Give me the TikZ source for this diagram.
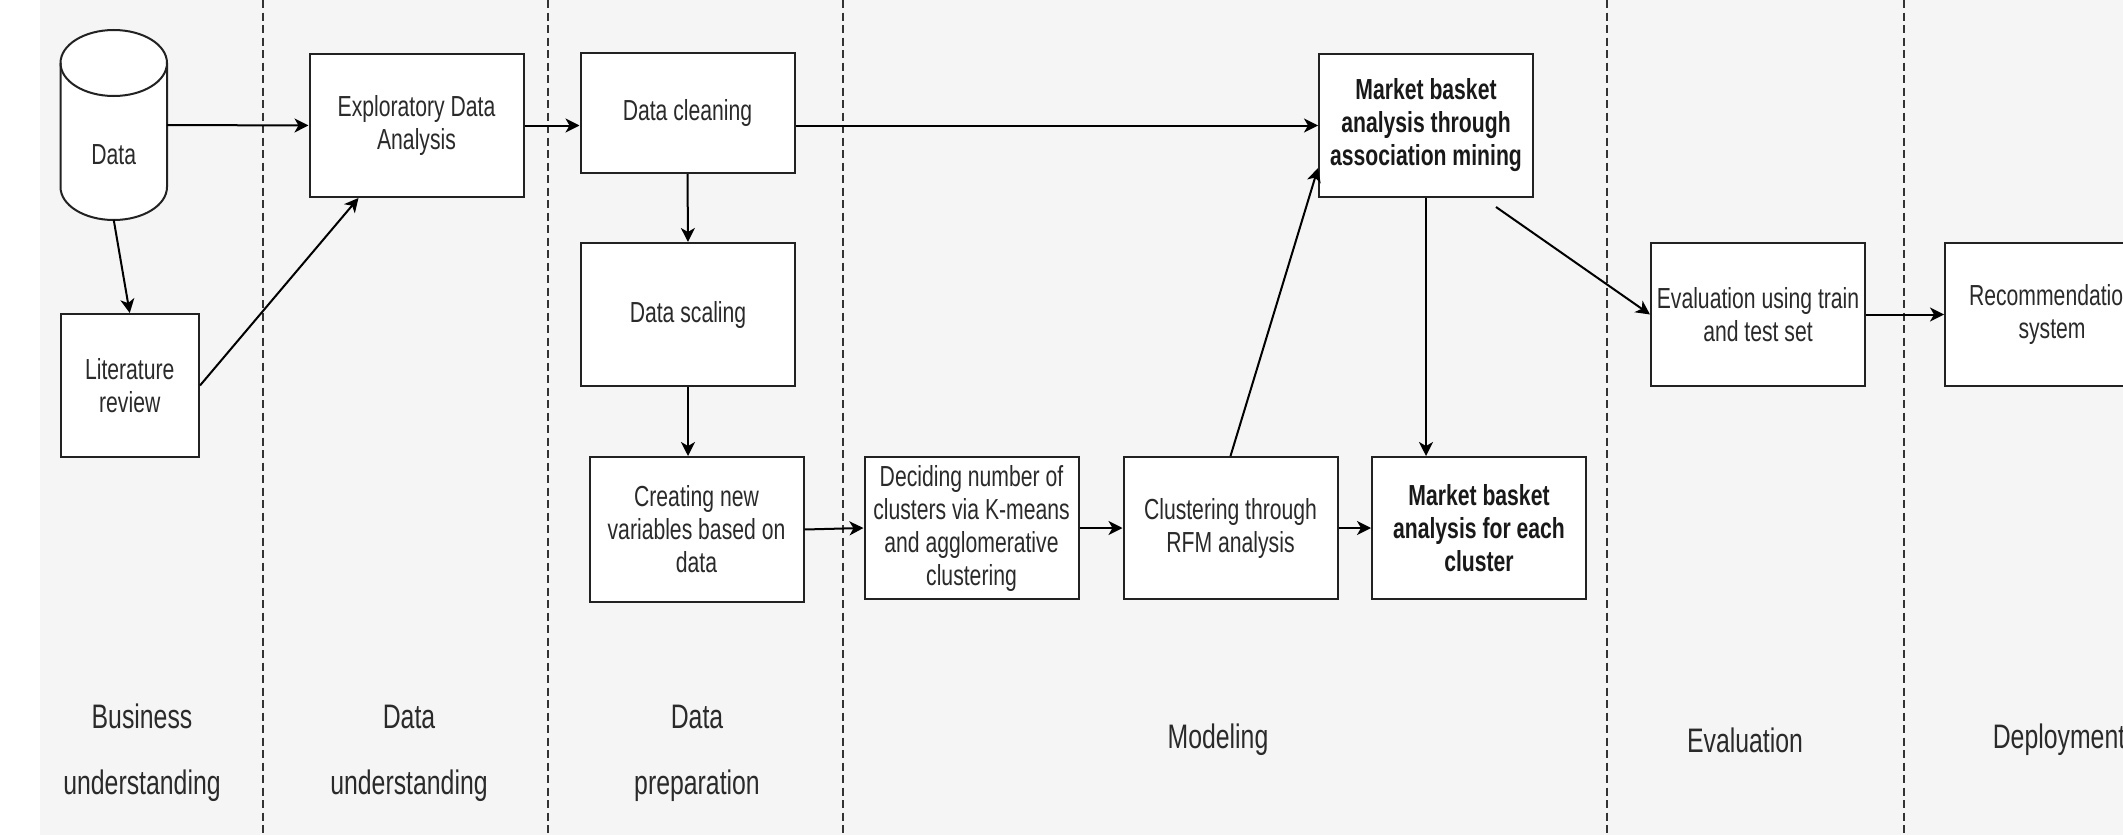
\documentclass[tikz,border=0pt]{standalone}
\usepackage{fontspec}
\setmainfont{Liberation Sans}[FakeStretch=0.73]
\usetikzlibrary{arrows.meta,calc}
\definecolor{bgc}{HTML}{F5F5F5}
\definecolor{txt}{HTML}{2A2A2A}
\definecolor{edge}{HTML}{222222}
\begin{document}
\begin{tikzpicture}[x=1pt,y=1pt,
  pbox/.style={draw=edge, line width=2pt, fill=white, minimum width=214pt, minimum height=143pt,
    inner sep=0pt, align=center, font=\fontsize{29}{33}\selectfont, text=txt},
  bpbox/.style={pbox, font=\fontsize{29}{33}\selectfont\bfseries, text=black!90},
  myarrow/.style={line width=2pt, draw=black, -{Stealth[length=14pt,width=14pt,inset=4pt]}},
  lane/.style={line width=1.5pt, draw=black!80, dash pattern=on 8pt off 4.5pt},
  phase/.style={align=center, font=\fontsize{34}{66}\selectfont, text=txt}
]
\useasboundingbox (0,0) rectangle (2123,-835);
\clip (0,0) rectangle (2123,-835);
\fill[white] (0,0) rectangle (2123,-835);
\fill[bgc] (40,0) rectangle (2123,-835);

% swim-lane separators
\draw[lane] (263,0) -- (263,-835);
\draw[lane] (548,0) -- (548,-835);
\draw[lane] (843,0) -- (843,-835);
\draw[lane] (1607,0) -- (1607,-835);
\draw[lane] (1904,0) -- (1904,-835);

% data cylinder
\node[minimum width=106.5pt, minimum height=190pt, inner sep=0pt, outer sep=0pt] (data) at (113.75,-125) {};
\filldraw[fill=white, draw=edge, line width=2pt]
  (60.5,-63) -- (60.5,-187) arc[start angle=180, end angle=360, x radius=53.25, y radius=33]
  -- (167,-63) arc[start angle=0, end angle=180, x radius=53.25, y radius=33] -- cycle;
\draw[draw=edge, line width=2pt] (60.5,-63) arc[start angle=180, end angle=360, x radius=53.25, y radius=33];
\node[font=\fontsize{29}{33}\selectfont, text=txt] (datatext) at (113.75,-155) {Data};

% boxes
\node[pbox, minimum width=138.5pt] (lit) at (129.75,-385.5) {Literature\\review};
\node[pbox] (eda) at (416.5,-125.5) {Exploratory Data\\Analysis};
\node[pbox, minimum height=120pt] (clean) at (687.5,-113) {Data cleaning};
\node[pbox] (scale) at (688,-314.5) {Data scaling};
\node[pbox, minimum height=145pt] (create) at (696.5,-529.5) {Creating new\\variables based on\\data};
\node[pbox, minimum height=142pt] (decide) at (971.5,-528) {Deciding number of\\clusters via K-means\\and agglomerative\\clustering};
\node[pbox, minimum height=142pt] (clust) at (1230.5,-528) {Clustering through\\RFM analysis};
\node[bpbox, minimum height=142pt] (mbaeach) at (1479,-528) {Market basket\\analysis for each\\cluster};
\node[bpbox] (mba1) at (1426,-125.5) {Market basket\\analysis through\\association mining};
\node[pbox] (eval) at (1758,-314.5) {Evaluation using train\\and test set};
\node[pbox] (rec) at (2052,-314.5) {Recommendation\\system};

% connectors
\draw[myarrow] (data.east) -- (eda.west);
\draw[myarrow] (data.south) -- (lit.north);
\draw[myarrow] (lit.east) -- ($(eda.south west)+(50,0)$);
\draw[myarrow] (eda.east) -- (eda.east -| clean.west);
\draw[myarrow] (mba1.west -| clean.east) -- (mba1.west);
\draw[myarrow] (clean.south) -- (scale.north);
\draw[myarrow] (scale.south) -- (scale.south |- create.north);
\draw[myarrow] (create.east) -- (decide.west);
\draw[myarrow] (decide.east) -- (clust.west);
\draw[myarrow] (clust.east) -- (mbaeach.west);
\draw[myarrow] (clust.north) -- ($(mba1.south west)+(0,30)$);
\draw[myarrow] (mba1.south) -- (mba1.south |- mbaeach.north);
\draw[myarrow] ($(mba1.south)+(70,-9)$) -- (eval.west);
\draw[myarrow] (eval.east) -- (rec.west);

% phase labels
\node[phase] (ph1) at (142,-753) {Business\\understanding};
\node[phase] (ph2) at (409,-753) {Data\\understanding};
\node[phase] (ph3) at (697,-753) {Data\\preparation};
\node[phase] (ph4) at (1218,-740) {Modeling};
\node[phase] (ph5) at (1745,-740) {Evaluation};
\node[phase] (ph6) at (2059,-740) {Deployment};
\end{tikzpicture}
\end{document}
